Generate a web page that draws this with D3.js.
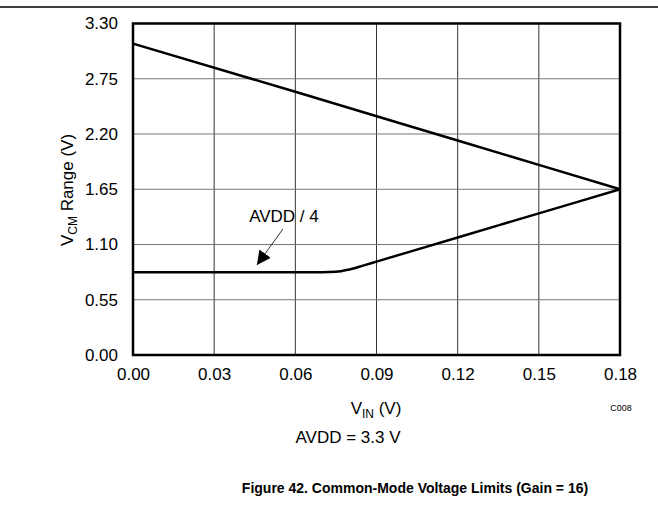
<!DOCTYPE html>
<html>
<head>
<meta charset="utf-8">
<script src="https://cdn.jsdelivr.net/npm/d3@7"></script>
<style>
body { margin: 0; background: #fff; }
svg text { font-family: Arial, "Liberation Sans", sans-serif; fill: #000; }
</style>
</head>
<body>
<div id="chart"></div>
<script>
// values
var xTicks = [0, 0.03, 0.06, 0.09, 0.12, 0.15, 0.18];
var yTicks = [0, 0.55, 1.10, 1.65, 2.20, 2.75, 3.30];

var upperVin = [0, 0.06, 0.12, 0.18];
var upperVcm = [3.10, 2.62, 2.135, 1.65];

var lowerVin = [0, 0.03, 0.06, 0.07, 0.075, 0.08, 0.085, 0.09, 0.12, 0.15, 0.18];
var lowerVcm = [0.825, 0.825, 0.825, 0.825, 0.828, 0.852, 0.89, 0.93, 1.17, 1.41, 1.65];

var noteText = "AVDD / 4";
var notePos = [0.0558, 1.324];
var arrowFrom = [0.0554, 1.254];
var arrowTo = [0.0458, 0.896];

function draw(){
	var W = 658, H = 506;
	var mLeft = 133, mRight = 620, mTop = 23.5, mBottom = 355;

	var svg = d3.select("#chart").append("svg")
		.attr("width", W).attr("height", H);

	svg.append("defs").append("marker")
		.attr("id", "arr")
		.attr("viewBox", "0 0 10 10")
		.attr("refX", 10).attr("refY", 5)
		.attr("markerWidth", 14).attr("markerHeight", 14)
		.attr("markerUnits", "userSpaceOnUse")
		.attr("orient", "auto")
		.append("path").attr("d", "M0,0L10,5L0,10Z").attr("fill", "#000");

	// rule at the top of the page
	svg.append("line")
		.attr("x1", 0).attr("x2", W).attr("y1", 7).attr("y2", 7)
		.attr("stroke", "#000").attr("stroke-width", 1.5);

	var x = d3.scaleLinear().domain([0, 0.18]).range([mLeft, mRight]);
	var y = d3.scaleLinear().domain([0, 3.30]).range([mBottom, mTop]);

	// grid
	svg.append("g").selectAll("line").data(xTicks.slice(1, -1)).enter().append("line")
		.attr("x1", function(d){ return x(d); }).attr("x2", function(d){ return x(d); })
		.attr("y1", mTop).attr("y2", mBottom)
		.attr("stroke", "#333").attr("stroke-width", 1);
	svg.append("g").selectAll("line").data(yTicks.slice(1, -1)).enter().append("line")
		.attr("y1", function(d){ return y(d); }).attr("y2", function(d){ return y(d); })
		.attr("x1", mLeft).attr("x2", mRight)
		.attr("stroke", "#777").attr("stroke-width", 1);

	// axes (labels only, frame drawn below)
	var xAxis = d3.axisBottom(x).tickValues(xTicks).tickFormat(d3.format(".2f")).tickSize(0).tickPadding(13);
	var yAxis = d3.axisLeft(y).tickValues(yTicks).tickFormat(d3.format(".2f")).tickSize(0).tickPadding(15);

	var gx = svg.append("g").attr("transform", "translate(0," + mBottom + ")").call(xAxis);
	var gy = svg.append("g").attr("transform", "translate(" + mLeft + ",0)").call(yAxis);
	[gx, gy].forEach(function(g){
		g.select(".domain").remove();
		g.selectAll("text").style("font-size", "17px").style("font-family", "Arial, 'Liberation Sans', sans-serif").attr("fill", "#000");
	});

	var line = d3.line()
		.x(function(d){ return x(d[0]); })
		.y(function(d){ return y(d[1]); })
		.curve(d3.curveMonotoneX);

	svg.append("path")
		.attr("d", line(d3.zip(upperVin, upperVcm)))
		.attr("fill", "none").attr("stroke", "#000").attr("stroke-width", 2.5);
	svg.append("path")
		.attr("d", line(d3.zip(lowerVin, lowerVcm)))
		.attr("fill", "none").attr("stroke", "#000").attr("stroke-width", 2.5);

	// frame
	svg.append("rect")
		.attr("x", mLeft).attr("y", mTop).attr("width", mRight - mLeft).attr("height", mBottom - mTop)
		.attr("fill", "none").attr("stroke", "#000").attr("stroke-width", 2.5);

	// annotation
	svg.append("text")
		.attr("x", x(notePos[0])).attr("y", y(notePos[1]))
		.attr("text-anchor", "middle").style("font-size", "17px")
		.text(noteText);
	svg.append("line")
		.attr("x1", x(arrowFrom[0])).attr("y1", y(arrowFrom[1]))
		.attr("x2", x(arrowTo[0])).attr("y2", y(arrowTo[1]))
		.attr("stroke", "#000").attr("stroke-width", 0.8)
		.attr("marker-end", "url(#arr)");

	// axis titles
	var yl = svg.append("text")
		.attr("transform", "translate(73,190) rotate(-90)")
		.attr("text-anchor", "middle").style("font-size", "17px");
	yl.append("tspan").text("V");
	yl.append("tspan").attr("dy", 4).style("font-size", "12px").text("CM");
	yl.append("tspan").attr("dy", -4).text(" Range (V)");

	var xl = svg.append("text")
		.attr("x", 376).attr("y", 414)
		.attr("text-anchor", "middle").style("font-size", "17px");
	xl.append("tspan").text("V");
	xl.append("tspan").attr("dy", 4).style("font-size", "12px").text("IN");
	xl.append("tspan").attr("dy", -4).text(" (V)");

	svg.append("text")
		.attr("x", 621).attr("y", 411)
		.attr("text-anchor", "middle").style("font-size", "9px").attr("fill", "#333")
		.text("C008");

	svg.append("text")
		.attr("x", 348).attr("y", 443)
		.attr("text-anchor", "middle").style("font-size", "17px")
		.text("AVDD = 3.3 V");

	svg.append("text")
		.attr("x", 415).attr("y", 493)
		.attr("text-anchor", "middle").style("font-size", "14px").style("font-weight", "bold")
		.text("Figure 42. Common-Mode Voltage Limits (Gain = 16)");
}

draw();
</script>
</body>
</html>
